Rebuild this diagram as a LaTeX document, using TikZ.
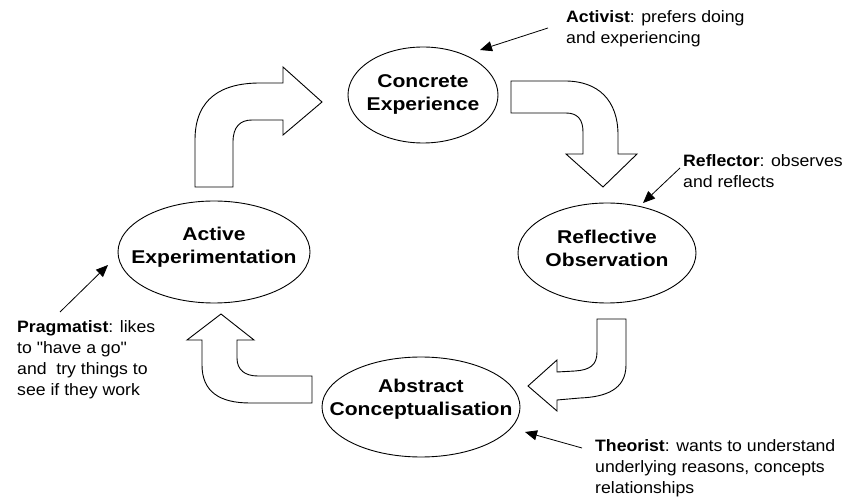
\documentclass[tikz,border=0pt]{standalone}
\usepackage{fontspec}
\setmainfont{Liberation Sans}
\newfontfamily\ellfont[FakeStretch=1.14]{Liberation Sans}
\newfontfamily\notefont[FakeStretch=1.07]{Liberation Sans}
\usetikzlibrary{shapes.geometric,arrows.meta}
\begin{document}
\begin{tikzpicture}[x=1pt,y=-1pt,
  ell/.style={draw,ellipse,line width=0.9pt,inner sep=0pt},
  lbl/.style={font=\ellfont\fontsize{18.5}{23}\bfseries,align=center,inner sep=0pt},
  note/.style={font=\notefont\fontsize{16.5}{21}\selectfont,align=left,anchor=north west,inner sep=0pt},
  blk/.style={draw,line width=0.9pt,fill=white,line join=miter},
  pt/.style={line width=0.8pt,-{Triangle[length=12pt,width=10pt]}}]
\useasboundingbox (0,0) rectangle (847,497);
\fill[white] (0,0) rectangle (847,497);

% ellipses
\node[ell,minimum width=150,minimum height=96] (ce) at (423,95) {};
\node[lbl] (cet) at (423,94) {Concrete\\Experience};
\node[ell,minimum width=178,minimum height=100] (ro) at (607,253) {};
\node[lbl] (rot) at (607,248) {Reflective\\Observation};
\node[ell,minimum width=192,minimum height=102] (ae) at (214,252) {};
\node[lbl] (aet) at (214,247) {Active\\Experimentation};
\node[ell,minimum width=198,minimum height=100] (ac) at (421,407) {};
\node[lbl] (act) at (421,399) {Abstract\\Conceptualisation};

% block arrows
\draw[blk] (195,187) -- (195,140) .. controls (195,98) and (222,83) .. (260,83)
  -- (283,83) -- (283,67) -- (322,102) -- (283,135) -- (283,120) -- (252,120)
  .. controls (240,120) and (233,127) .. (233,142) -- (233,187) -- cycle;
\draw[blk] (511,81) -- (565,81) .. controls (598,81) and (618,100) .. (618,135)
  -- (618,154) -- (637,154) -- (603,187) -- (566,154) -- (583,154) -- (583,132)
  .. controls (583,120) and (578,113) .. (566,113) -- (511,113) -- cycle;
\draw[blk] (597,319) -- (626,319) -- (626,365) .. controls (626,390) and (605,397) .. (580,398)
  -- (557,400) -- (557,411) -- (528,386) -- (557,360) -- (557,372) -- (575,371)
  .. controls (590,370) and (597,365) .. (597,352) -- cycle;
\draw[blk] (202,340) -- (202,365) .. controls (202,392) and (220,403) .. (250,403)
  -- (312,403) -- (312,376) -- (258,376) .. controls (245,376) and (237,370) .. (237,358)
  -- (237,340) -- (254,340) -- (221,314) -- (187,340) -- cycle;

% annotations
\node[note] (act1) at (566,10) {\textbf{Activist}: prefers doing\\and experiencing};
\node[note] (ref1) at (683,154) {\textbf{Reflector}: observes\\and reflects};
\node[note] (prg1) at (17,320) {\textbf{Pragmatist}: likes\\to "have a go"\\and\ \ try things to\\see if they work};
\node[note] (thr1) at (595,439) {\textbf{Theorist}: wants to understand\\underlying reasons, concepts\\relationships};

\coordinate (actA) at (548,28);  \coordinate (actB) at (480,50);
\coordinate (refA) at (680,168); \coordinate (refB) at (643,203);
\coordinate (prgA) at (60,312);  \coordinate (prgB) at (108,265);
\coordinate (thrA) at (582,448); \coordinate (thrB) at (525,432);
\draw[pt] (actA) -- (actB);
\draw[pt] (refA) -- (refB);
\draw[pt] (prgA) -- (prgB);
\draw[pt] (thrA) -- (thrB);
\end{tikzpicture}
\end{document}
